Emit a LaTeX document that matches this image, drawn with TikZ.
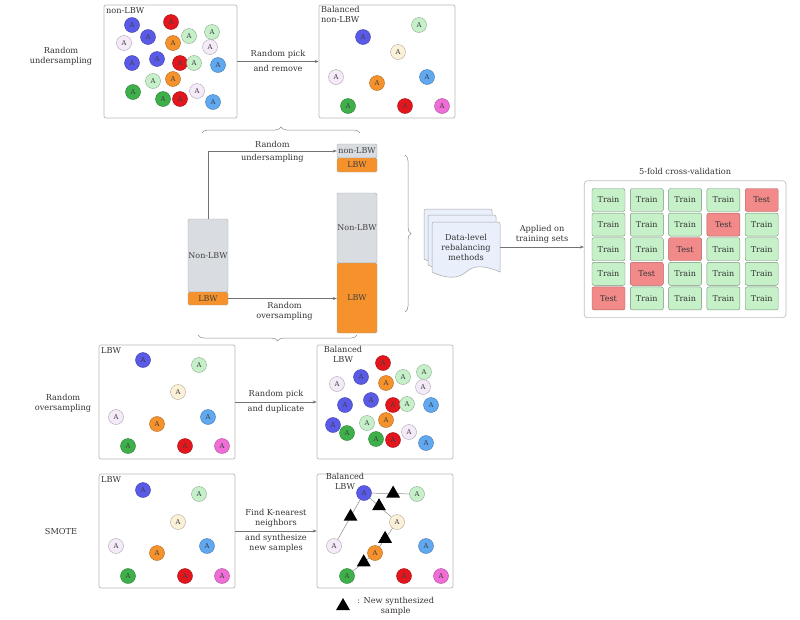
\documentclass[tikz,border=0pt]{standalone}
\usepackage{fontspec}
\setmainfont{DejaVu Serif}
\usetikzlibrary{positioning,arrows.meta,fit,backgrounds,calc,decorations.pathreplacing,shapes.geometric}

\definecolor{cB}{RGB}{90,90,232}
\definecolor{cR}{RGB}{226,22,28}
\definecolor{cG}{RGB}{198,240,202}
\definecolor{cL}{RGB}{245,234,248}
\definecolor{cO}{RGB}{246,146,44}
\definecolor{cS}{RGB}{96,168,240}
\definecolor{cN}{RGB}{62,176,74}
\definecolor{cC}{RGB}{251,240,216}
\definecolor{cP}{RGB}{240,108,214}
\definecolor{barGray}{RGB}{217,220,225}
\definecolor{trainFill}{RGB}{197,240,200}
\definecolor{testFill}{RGB}{242,138,138}
\definecolor{sheetFill}{RGB}{233,240,252}

\begin{document}
\begin{tikzpicture}[
  x=1pt,y=-1pt,
  >={Stealth[round]},
  ball/.style={circle,minimum size=15pt,inner sep=0pt,line width=0.4pt,
               font=\fontsize{6.8}{7}\selectfont,text=black!75},
  panel/.style={rectangle,rounded corners=2pt,draw=black!28,line width=0.7pt},
  plab/.style={font=\fontsize{8.2}{10.5}\selectfont,text=black!80,inner sep=1pt},
  lbl/.style={font=\fontsize{8.2}{10}\selectfont,text=black!80,align=center},
  arr/.style={-{Stealth[length=4pt,width=3pt]},black!55,line width=0.5pt},
  bar/.style={rectangle,rounded corners=1.5pt,draw=black!35,fill=barGray,minimum width=40pt,
              inner sep=0pt,font=\fontsize{8}{8}\selectfont,text=black!75},
  lbwbar/.style={bar,fill=cO},
  cell/.style={rectangle,rounded corners=2pt,minimum width=33pt,minimum height=23pt,
               inner sep=0pt,font=\fontsize{8}{8}\selectfont,text=black!80},
  traincell/.style={cell,fill=trainFill,draw=trainFill!60!black},
  testcell/.style={cell,fill=testFill,draw=testFill!70!black},
  brc/.style={decorate,decoration={brace,amplitude=6pt},black!45,line width=0.5pt},
  sheet/.style={draw=black!35,fill=sheetFill,line width=0.5pt},
  newpt/.style={regular polygon,regular polygon sides=3,fill=black,minimum size=16pt,inner sep=0pt},
  link/.style={black!45,line width=0.5pt}
]
\useasboundingbox (0,0) rectangle (800,619);

%% ================= random undersampling =================
\node[lbl] (rus) at (61,56) {Random\\undersampling};
\node[panel,minimum width=133pt,minimum height=113pt] (nonlbw) at (170.5,61.5) {};
\node[plab,anchor=north west] at (105,6) {non-LBW};
\foreach \x/\y/\c [count=\i] in {132/25/B,171/22/R,124/43/L,148/37/B,189/36/G,212/32/G,173/43/O,
    210/47/L,132/63/B,157/59/B,180/63/R,194/63/G,218/65/S,153/81/G,173/79/O,133/92/N,
    197/91/L,163/99/N,180/99/R,213/102/S}
  \node[ball,fill=c\c,draw=c\c!70!black] (u\i) at (\x,\y) {A};

\node[panel,minimum width=136pt,minimum height=113pt] (balnon) at (387,61.5) {};
\node[plab,anchor=north west,align=left] at (320,5) {Balanced\\non-LBW};
\foreach \x/\y/\c [count=\i] in {419/25/G,363/37/B,398/52/C,336/77/L,377/83/O,427/77/S,
    348/106/N,405/106/R,442/106/P}
  \node[ball,fill=c\c,draw=c\c!70!black] (bu\i) at (\x,\y) {A};
\draw[arr] (nonlbw) -- node[lbl,above]{Random pick} node[lbl,below]{and remove} (balnon);

%% ================= class bars =================
\node[bar,minimum height=73pt] (lnon) at (208,255.5) {Non-LBW};
\node[lbwbar,minimum height=13pt] (llbw) at (208,298.5) {LBW};
\node[bar,minimum height=14pt] (unon) at (357,151) {non-LBW};
\node[lbwbar,minimum height=14pt] (ulbw) at (357,165) {LBW};
\node[bar,minimum height=70pt] (onon) at (357,228) {Non-LBW};
\node[lbwbar,minimum height=70pt] (olbw) at (357,298) {LBW};
\draw[arr] (lnon.north) |- node[lbl,above,pos=0.75]{Random}
  node[lbl,below,pos=0.75]{undersampling} (unon.west);
\draw[arr] (llbw.east) -- node[lbl,below,xshift=2pt]{Random\\oversampling} (llbw.east -| olbw.west);

\draw[brc] (202,133) -- (360,133);
\draw[brc] (357,335) -- (198,335);
\draw[brc] (405,155) -- (405,312);

%% ================= methods -> cross-validation =================
\foreach \dx/\dy in {424/209,428/215,432/222}
  \draw[sheet,shift={(\dx,\dy)}] (0,50) [rounded corners=2pt] -- (0,0) -- (68,0) [sharp corners]
    -- (68,50) .. controls (52,43) and (42,43) .. (34,50) .. controls (26,57) and (14,57) .. (0,50) -- cycle;
\node[lbl,minimum width=68pt,minimum height=50pt] (docs) at (466,247) {Data-level\\rebalancing\\methods};

\foreach \r in {1,...,5}
  \foreach \c in {1,...,5} {
    \pgfmathtruncatemacro\tst{6-\r}
    \ifnum\c=\tst
      \node[testcell] (c\r\c) at ({570.2+38.3*\c},{175.4+24.6*\r}) {Test};
    \else
      \node[traincell] (c\r\c) at ({570.2+38.3*\c},{175.4+24.6*\r}) {Train};
    \fi
  }
\node[panel,draw=black!25,rounded corners=3pt,fit=(c11)(c55),inner sep=7.5pt] (cv) {};
\node[lbl,above=2pt of cv] (cvt) {5-fold cross-validation};
\draw[arr] (docs.east) -- node[lbl,above]{Applied on\\training sets} (docs.east -| cv.west);

%% ================= random oversampling =================
\node[lbl] (ros) at (63,403) {Random\\oversampling};
\node[panel,minimum width=136pt,minimum height=114pt] (lbw) at (167,402) {};
\node[plab,anchor=north west] at (100,346) {LBW};
\foreach \x/\y/\c [count=\i] in {143/360/B,199/365/G,178/392/C,116/417/L,157/424/O,208/417/S,
    128/446/N,185/446/R,222/446/P}
  \node[ball,fill=c\c,draw=c\c!70!black] (l\i) at (\x,\y) {A};

\node[panel,minimum width=136pt,minimum height=114pt] (ballbw) at (385,402) {};
\node[plab,anchor=north,align=center] at (343,345) {Balanced\\LBW};
\foreach \x/\y/\c [count=\i] in {383/363/R,424/372/G,361/377/B,403/377/G,337/384/L,386/383/O,
    423/387/L,345/405/B,371/400/B,393/405/R,407/404/G,431/405/S,333/425/B,367/423/G,
    386/420/O,347/433/N,409/432/L,376/439/N,393/440/R,426/443/S}
  \node[ball,fill=c\c,draw=c\c!70!black] (bo\i) at (\x,\y) {A};
\draw[arr] (lbw) -- node[lbl,above]{Random pick} node[lbl,below]{and duplicate} (ballbw);

%% ================= SMOTE =================
\node[lbl] (smote) at (61,532) {SMOTE};
\node[panel,minimum width=136pt,minimum height=114pt] (smlbw) at (167,531) {};
\node[plab,anchor=north west] at (100,475) {LBW};
\foreach \x/\y/\c [count=\i] in {143/490/B,199/494/G,178/522/C,116/546/L,157/553/O,207/546/S,
    128/576/N,185/576/R,222/576/P}
  \node[ball,fill=c\c,draw=c\c!70!black] (s\i) at (\x,\y) {A};

\node[panel,minimum width=136pt,minimum height=114pt] (smbal) at (385,531) {};
\node[plab,anchor=north,align=center] at (345,472) {Balanced\\LBW};
\foreach \x/\y/\c [count=\i] in {364/493/B,417/494/G,397/522/C,334/546/L,375/553/O,426/546/S,
    347/576/N,404/576/R,441/576/P}
  \node[ball,fill=c\c,draw=c\c!70!black] (bs\i) at (\x,\y) {A};
\foreach \a/\b/\p in {1/2/0.57,1/3/0.43,1/4/0.43,3/5/0.57,5/7/0.33}
  \draw[link] (bs\a) -- node[newpt,pos=\p]{} (bs\b);
\draw[arr] (smlbw) -- node[lbl,above]{Find K-nearest\\neighbors}
  node[lbl,below]{and synthesize\\new samples} (smbal);

\node[newpt] (legtri) at (343,606) {};
\node[lbl,right=6pt of legtri] (legtxt) {: New synthesized\\sample};

\end{tikzpicture}
\end{document}
